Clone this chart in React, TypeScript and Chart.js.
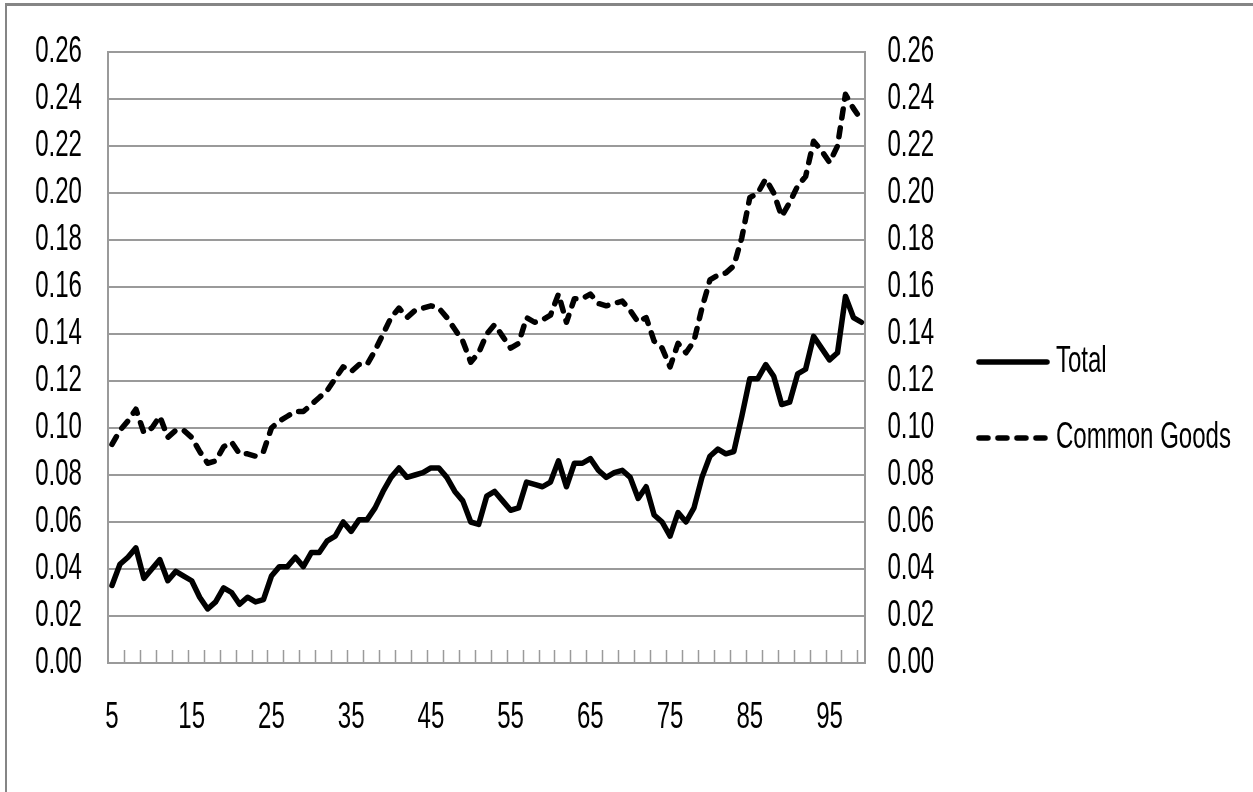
import { useEffect, useRef } from 'react'
import Chart from 'chart.js/auto'

const FONT = "'Liberation Sans', Arial, sans-serif"
const FONT_SIZE = 37
// text in the source is drawn very narrow, so glyphs get squeezed horizontally
const TEXT_SCALE = 0.65
const GRID = '#9a9a9a'

const ages = [
  5, 6, 7, 8, 9, 10, 11, 12, 13, 14, 15, 16, 17, 18, 19, 20, 21, 22, 23, 24,
  25, 26, 27, 28, 29, 30, 31, 32, 33, 34, 35, 36, 37, 38, 39, 40, 41, 42, 43, 44,
  45, 46, 47, 48, 49, 50, 51, 52, 53, 54, 55, 56, 57, 58, 59, 60, 61, 62, 63, 64,
  65, 66, 67, 68, 69, 70, 71, 72, 73, 74, 75, 76, 77, 78, 79, 80, 81, 82, 83, 84,
  85, 86, 87, 88, 89, 90, 91, 92, 93, 94, 95, 96, 97, 98, 99,
]

const xTickLabels = ['5', '15', '25', '35', '45', '55', '65', '75', '85', '95']

const yMin = 0
const yMax = 0.26
const yStep = 0.02

const total = [
  0.033, 0.042, 0.045, 0.049, 0.036, 0.040, 0.044, 0.035, 0.039, 0.037,
  0.035, 0.028, 0.023, 0.026, 0.032, 0.030, 0.025, 0.028, 0.026, 0.027,
  0.037, 0.041, 0.041, 0.045, 0.041, 0.047, 0.047, 0.052, 0.054, 0.060,
  0.056, 0.061, 0.061, 0.066, 0.073, 0.079, 0.083, 0.079, 0.080, 0.081,
  0.083, 0.083, 0.079, 0.073, 0.069, 0.060, 0.059, 0.071, 0.073, 0.069,
  0.065, 0.066, 0.077, 0.076, 0.075, 0.077, 0.086, 0.075, 0.085, 0.085,
  0.087, 0.082, 0.079, 0.081, 0.082, 0.079, 0.070, 0.075, 0.063, 0.060,
  0.054, 0.064, 0.060, 0.066, 0.079, 0.088, 0.091, 0.089, 0.090, 0.105,
  0.121, 0.121, 0.127, 0.122, 0.110, 0.111, 0.123, 0.125, 0.139, 0.134,
  0.129, 0.132, 0.156, 0.147, 0.145,
]

const commonGoods = [
  0.093, 0.099, 0.103, 0.108, 0.098, 0.100, 0.105, 0.096, 0.099, 0.099,
  0.096, 0.090, 0.085, 0.086, 0.092, 0.094, 0.089, 0.089, 0.088, 0.090,
  0.100, 0.103, 0.105, 0.107, 0.107, 0.110, 0.113, 0.116, 0.121, 0.126,
  0.124, 0.127, 0.127, 0.133, 0.140, 0.147, 0.151, 0.147, 0.150, 0.151,
  0.152, 0.151, 0.147, 0.142, 0.137, 0.128, 0.132, 0.140, 0.144, 0.139,
  0.134, 0.136, 0.147, 0.145, 0.146, 0.148, 0.157, 0.145, 0.155, 0.155,
  0.157, 0.153, 0.152, 0.153, 0.154, 0.150, 0.145, 0.147, 0.137, 0.134,
  0.126, 0.136, 0.132, 0.137, 0.151, 0.163, 0.165, 0.166, 0.169, 0.181,
  0.198, 0.200, 0.206, 0.200, 0.190, 0.196, 0.203, 0.207, 0.222, 0.218,
  0.213, 0.220, 0.242, 0.236, 0.231,
]

const LINE_W = 5.5
const DASH = [9, 10]

// legend sample: a short thick line, solid or dashed
function legendLine(dash: number[]) {
  const c = document.createElement('canvas')
  c.width = 74
  c.height = 10
  const g = c.getContext('2d')
  if (g) {
    g.strokeStyle = '#000'
    g.lineWidth = LINE_W
    g.lineCap = 'round'
    g.setLineDash(dash)
    g.beginPath()
    g.moveTo(3, 5)
    g.lineTo(71, 5)
    g.stroke()
  }
  return c
}

// small tick marks pointing up into the plot, one every two categories
const insideTicks = {
  id: 'insideTicks',
  afterDraw(chart: Chart) {
    const xs = chart.scales.x
    const { ctx, chartArea } = chart
    const step = xs.getPixelForValue(1) - xs.getPixelForValue(0)
    ctx.save()
    ctx.strokeStyle = GRID
    ctx.lineWidth = 1.5
    ctx.beginPath()
    for (let i = 2; i < ages.length; i += 2) {
      const x = Math.round(xs.getPixelForValue(i) - step / 2) + 0.5
      ctx.moveTo(x, chartArea.bottom)
      ctx.lineTo(x, chartArea.bottom - 13)
    }
    ctx.stroke()
    ctx.restore()
  },
}

export default function App() {
  const canvasRef = useRef<HTMLCanvasElement>(null)
  const chartRef = useRef<Chart | null>(null)

  useEffect(() => {
    if (!canvasRef.current) return
    const ctx = canvasRef.current.getContext('2d')
    if (!ctx) return

    const rawFill = ctx.fillText.bind(ctx)
    const rawMeasure = ctx.measureText.bind(ctx)
    ctx.fillText = (text: string, x: number, y: number, maxWidth?: number) => {
      ctx.save()
      ctx.translate(x, y)
      ctx.scale(TEXT_SCALE, 1)
      if (maxWidth === undefined) rawFill(text, 0, 0)
      else rawFill(text, 0, 0, maxWidth / TEXT_SCALE)
      ctx.restore()
    }
    ctx.measureText = (text: string) => {
      const m = rawMeasure(text)
      return {
        width: m.width * TEXT_SCALE,
        actualBoundingBoxAscent: m.actualBoundingBoxAscent,
        actualBoundingBoxDescent: m.actualBoundingBoxDescent,
        actualBoundingBoxLeft: m.actualBoundingBoxLeft * TEXT_SCALE,
        actualBoundingBoxRight: m.actualBoundingBoxRight * TEXT_SCALE,
      } as TextMetrics
    }

    if (chartRef.current) chartRef.current.destroy()

    const font = { family: FONT, size: FONT_SIZE }
    const fmt = (v: number | string) => Number(v).toFixed(2)

    chartRef.current = new Chart(ctx, {
      type: 'line',
      data: {
        labels: ages.map(String),
        datasets: [
          {
            label: 'Total',
            data: total,
            borderColor: '#000',
            backgroundColor: '#000',
            borderWidth: LINE_W,
            borderCapStyle: 'round',
            borderJoinStyle: 'round',
            pointRadius: 0,
            pointStyle: legendLine([]),
            tension: 0,
          },
          {
            label: 'Common Goods',
            data: commonGoods,
            borderColor: '#000',
            backgroundColor: '#000',
            borderWidth: LINE_W,
            borderDash: DASH,
            borderCapStyle: 'round',
            borderJoinStyle: 'round',
            pointRadius: 0,
            pointStyle: legendLine(DASH),
            tension: 0,
          },
        ],
      },
      options: {
        responsive: true,
        maintainAspectRatio: false,
        animation: false,
        layout: { padding: { top: 52, bottom: 44, left: 0, right: 12 } },
        plugins: {
          tooltip: { enabled: false },
          legend: {
            position: 'right',
            align: 'center',
            maxWidth: 400,
            labels: {
              usePointStyle: true,
              pointStyleWidth: 49,
              padding: 39,
              color: '#000',
              font,
            },
          },
        },
        scales: {
          x: {
            offset: true,
            grid: { display: false, drawTicks: false },
            border: { display: true, color: GRID, width: 2 },
            ticks: {
              autoSkip: false,
              maxRotation: 0,
              padding: 33,
              color: '#000',
              font,
              callback: (_v, i) => (xTickLabels.includes(String(ages[i])) ? String(ages[i]) : ''),
            },
            afterFit: (s) => {
              s.height = 85
            },
          },
          y: {
            position: 'left',
            min: yMin,
            max: yMax,
            grid: { color: GRID, lineWidth: 2, drawTicks: false },
            border: { display: true, color: GRID, width: 2 },
            ticks: {
              stepSize: yStep,
              autoSkip: false,
              padding: 26,
              color: '#000',
              font,
              callback: fmt,
            },
            afterFit: (s) => {
              s.width = 108
            },
          },
          y2: {
            position: 'right',
            min: yMin,
            max: yMax,
            grid: { drawOnChartArea: false, drawTicks: false },
            border: { display: true, color: GRID, width: 2 },
            ticks: {
              stepSize: yStep,
              autoSkip: false,
              padding: 22,
              color: '#000',
              font,
              callback: fmt,
            },
            afterFit: (s) => {
              s.width = 84
            },
          },
        },
      },
      plugins: [insideTicks],
    })

    return () => {
      if (chartRef.current) {
        chartRef.current.destroy()
        chartRef.current = null
      }
    }
  }, [])

  return (
    <div
      style={{
        position: 'absolute',
        left: 0,
        top: 0,
        width: 1253,
        height: 792,
        background: '#fff',
        overflow: 'hidden',
      }}
    >
      <canvas ref={canvasRef} />
      <div
        style={{
          position: 'absolute',
          left: 5,
          top: 3,
          right: -10,
          bottom: -10,
          borderTop: '3px solid #858585',
          borderLeft: '2px solid #858585',
          pointerEvents: 'none',
        }}
      />
    </div>
  )
}
